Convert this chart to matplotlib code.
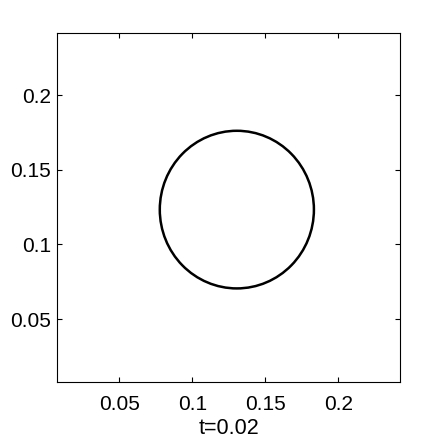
import numpy as np
import matplotlib.pyplot as plt
from matplotlib.patches import Circle

# interface at t=0.02
center = (0.1305, 0.1233)
radius = 0.0528
xticks = [0.05, 0.1, 0.15, 0.2]
yticks = [0.05, 0.1, 0.15, 0.2]
tick_labels = ['0.05', '0.1', '0.15', '0.2']

plt.rcParams['font.family'] = ['Liberation Sans', 'DejaVu Sans']

fig = plt.figure(figsize=(4.42, 4.42), dpi=100)
ax = fig.add_axes([0.1297, 0.1364, 0.776, 0.7896])

ax.add_patch(Circle(center, radius, fill=False, edgecolor='black', linewidth=1.8))

ax.set_xlim(0.0075, 0.2425)
ax.set_ylim(0.0080, 0.2418)
ax.set_xticks(xticks)
ax.set_xticklabels(tick_labels)
ax.set_yticks(yticks)
ax.set_yticklabels(tick_labels)
ax.tick_params(direction='in', length=3.5, width=0.8, labelsize=15,
               top=True, right=True)
ax.tick_params(axis='x', pad=9.5)
ax.tick_params(axis='y', pad=4.5)
ax.set_xlabel('t=0.02', fontsize=15.5, labelpad=3)
for s in ax.spines.values():
    s.set_linewidth(0.8)

fig.savefig('out.png', dpi=100)
